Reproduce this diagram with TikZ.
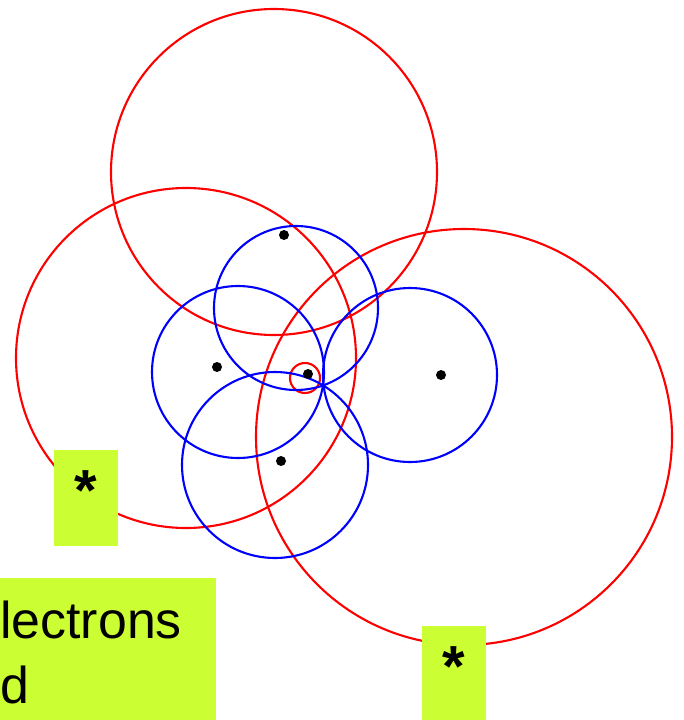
\documentclass[tikz,border=0pt]{standalone}
\usepackage{fontspec}
\setmainfont{Liberation Sans}
\definecolor{limebox}{HTML}{CCFF33}

\begin{document}
\begin{tikzpicture}[
    x=0.02cm, y=-0.02cm,
    redring/.style  = {draw=red, line width=1.2pt},
    bluering/.style = {draw=blue, line width=1.2pt},
    dot/.style      = {circle, fill=black, inner sep=0pt, minimum size=0.2cm},
    tag/.style      = {rectangle, fill=limebox, inner sep=0pt},
    bigtext/.style  = {font=\fontsize{29.5}{37}\selectfont, inner sep=0pt},
    startext/.style = {font=\fontsize{33}{37}\selectfont\bfseries, inner sep=0pt},
]
\useasboundingbox (0,0) rectangle (683,720);

% large red circles
\draw[redring] (274,172) circle (163);
\draw[redring] (186,358) circle (170);
\draw[redring] (464,437) circle (208);
\draw[redring] (305,378) circle (15);

% blue circles
\draw[bluering] (296,308) circle (82);
\draw[bluering] (238,372) circle (86);
\draw[bluering] (410,375) circle (87);
\draw[bluering] (275,465) circle (93);

% centres
\node[dot] (ctop)    at (284,235) {};
\node[dot] (cleft)   at (217,367) {};
\node[dot] (cmid)    at (308,374) {};
\node[dot] (cright)  at (441,375) {};
\node[dot] (cbottom) at (281,461) {};

% labels
\node[tag, minimum width=1.28cm, minimum height=1.92cm] (starleft) at (86,498) {};
\node[startext] (starlefttext) at (86,491) {*};
\node[tag, minimum width=4.32cm, minimum height=2.84cm] (notebox) at (108,649) {};
\node[bigtext, anchor=base west] (noteone) at (0,638) {lectrons};
\node[bigtext, anchor=base west] (notetwo) at (0,703) {d};
\node[tag, minimum width=1.28cm, minimum height=1.88cm] (starright) at (454,673) {};
\node[startext] (starrighttext) at (454,667) {*};
\end{tikzpicture}
\end{document}
